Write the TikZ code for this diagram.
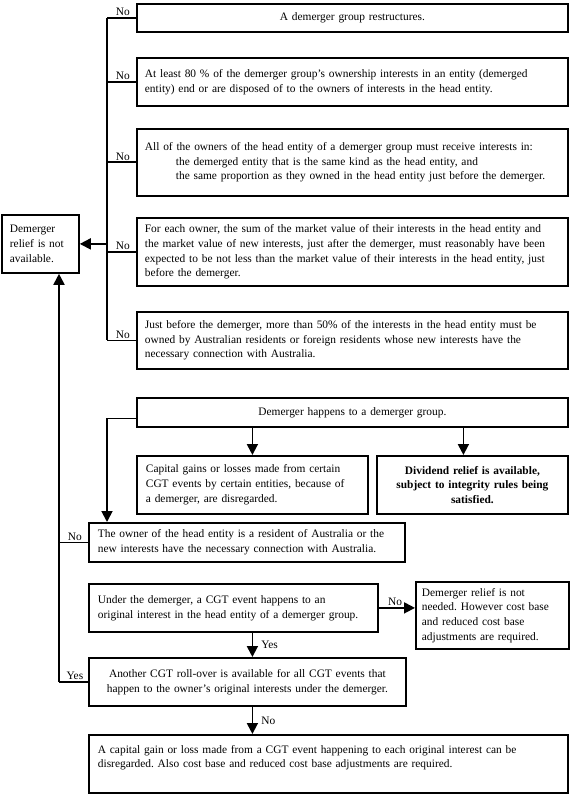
\documentclass[tikz,border=0pt]{standalone}
\usepackage{fontspec}
\setmainfont{Liberation Serif}
\usepackage{tikz}
\usetikzlibrary{arrows.meta}
\usetikzlibrary{positioning}

\newcommand{\boxfont}{\fontsize{11.4}{14.8}\selectfont\frenchspacing}
\tikzset{
  box/.style={draw, anchor=north west, inner xsep=9pt, inner ysep=2pt, align=left, font=\boxfont},
  arr/.style={-{Triangle[length=11pt,width=11pt]}},
  lbl/.style={font=\boxfont, inner sep=1pt}
}

\begin{document}
\begin{tikzpicture}[x=1pt, y=-1pt, line width=1.8pt]
        \useasboundingbox (0,0) rectangle (570,794);

        \node[box, align=center, text width=413pt, minimum height=28pt] (c1) at (136,3) {A demerger group restructures.};
        \node[box, text width=415pt, inner xsep=8pt, minimum height=48pt] (c2) at (136,57) {At least 80 \% of the demerger group’s ownership interests in an entity (demerged\\ entity) end or are disposed of to the owners of interests in the head entity.};
        \node[box, text width=415pt, inner xsep=8pt, minimum height=67pt] (c3) at (136,128) {All of the owners of the head entity of a demerger group must receive interests in:\\ \hspace*{31pt}the demerged entity that is the same kind as the head entity, and\\ \hspace*{31pt}the same proportion as they owned in the head entity just before the demerger.};
        \node[box, text width=415pt, inner xsep=8pt, minimum height=68pt] (c4) at (136,217) {For each owner, the sum of the market value of their interests in the head entity and\\ the market value of new interests, just after the demerger, must reasonably have been\\ expected to be not less than the market value of their interests in the head entity, just\\ before the demerger.};
        \node[box, text width=415pt, inner xsep=8pt, minimum height=57pt] (c5) at (136,311) {Just before the demerger, more than 50\% of the interests in the head entity must be\\ owned by Australian residents or foreign residents whose new interests have the\\ necessary connection with Australia.};
        \node[box, text width=61pt, inner xsep=8pt, minimum height=58pt] (norelief) at (1,214) {Demerger\\ relief is not\\ available.};

        \draw (c1.west) -- ++(-29,0) coordinate (b1) node[lbl, above, pos=.45] {No};
        \draw (c2.west) -- ++(-29,0) coordinate (b2) node[lbl, above, pos=.45] {No};
        \draw (c3.west) -- ++(-29,0) coordinate (b3) node[lbl, above, pos=.45] {No};
        \draw (c4.west) -- ++(-29,0) coordinate (b4) node[lbl, above, pos=.45] {No};
        \draw (c5.west) -- ++(-29,0) coordinate (b5) node[lbl, above, pos=.45] {No};
        \draw (b1) -- (b5);
        \draw[arr] (norelief.east -| b1) -- (norelief.east);

        \node[box, align=center, text width=413pt, minimum height=29pt] (happens) at (136,397) {Demerger happens to a demerger group.};
        \node[box, text width=213pt, minimum height=58pt] (gains) at (136,455) {Capital gains or losses made from certain\\ CGT events by certain entities, because of\\ a demerger, are disregarded.};
        \node[box, align=center, text width=177pt, inner xsep=7pt, minimum height=58pt, font=\boxfont\bfseries] (dividend) at (376,455) {Dividend relief is available,\\ subject to integrity rules being\\ satisfied.};
        \node[box, text width=298pt, minimum height=39pt] (owner) at (88,522) {The owner of the head entity is a resident of Australia or the\\ new interests have the necessary connection with Australia.};
        \node[box, text width=271pt, minimum height=48pt] (under) at (88,583) {Under the demerger, a CGT event happens to an\\ original interest in the head entity of a demerger group.};
        \node[box, text width=141pt, inner xsep=6pt, minimum height=67pt] (notneeded) at (415,581) {Demerger relief is not\\ needed. However cost base\\ and reduced cost base\\ adjustments are required.};
        \node[box, align=center, text width=299pt, minimum height=48pt] (rollover) at (88,657) {Another CGT roll-over is available for all CGT events that\\ happen to the owner’s original interests under the demerger.};
        \node[box, text width=461pt, minimum height=58pt] (final) at (88,734) {A capital gain or loss made from a CGT event happening to each original interest can be\\ disregarded. Also cost base and reduced cost base adjustments are required.\\ \mbox{}};

        \draw[arr] (happens.south -| gains.north) -- (gains.north);
        \draw[arr] ([xshift=-9pt]happens.south -| dividend.north) -- ([xshift=-9pt]dividend.north);
        \draw[arr] ([yshift=-6pt]happens.west) -| (owner.north -| b1);

        \draw (owner.west) -- ++(-29,0) coordinate (l1) node[lbl, above, pos=.45] {No};
        \draw (rollover.west) -- ++(-29,0) coordinate (l2) node[lbl, above, pos=.45] {Yes};
        \draw[arr] (l2) -- (l2 |- norelief.south);

        \draw[arr] (under.east) -- (under.east -| notneeded.west) node[lbl, above, pos=.45] {No};
        \draw[arr] (under.south -| gains.north) -- (rollover.north -| gains.north) node[lbl, right=7pt, pos=.5] {Yes};
        \draw[arr] (rollover.south -| gains.north) -- (final.north -| gains.north) node[lbl, right=7pt, pos=.5] {No};
    \end{tikzpicture}
\end{document}
